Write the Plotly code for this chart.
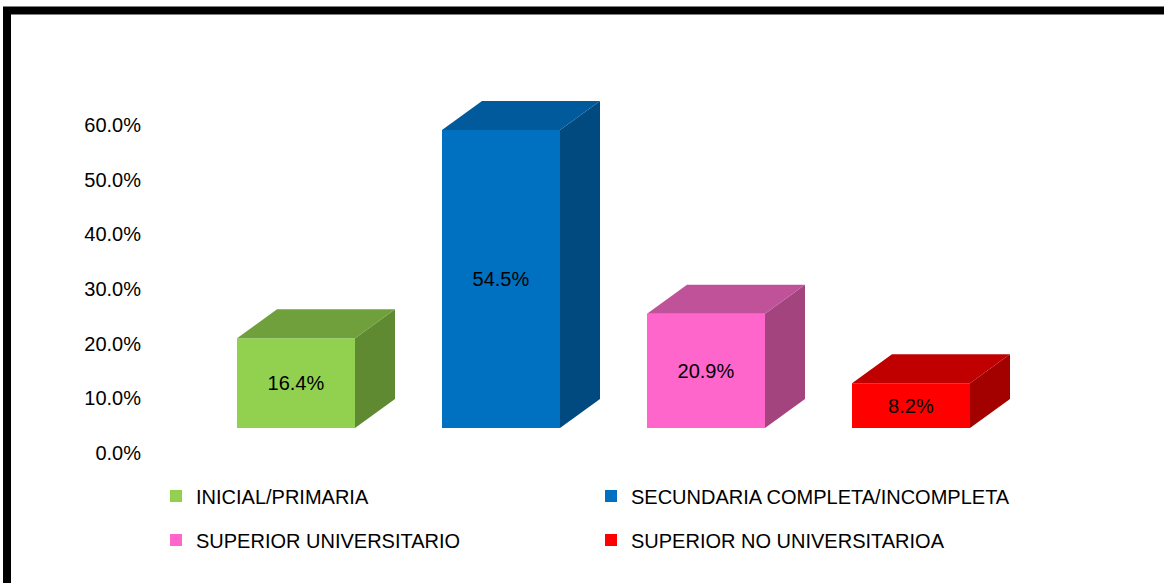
import plotly.graph_objects as go

# ---- data ----
categories = ["INICIAL/PRIMARIA", "SECUNDARIA COMPLETA/INCOMPLETA",
              "SUPERIOR UNIVERSITARIO", "SUPERIOR NO UNIVERSITARIOA"]
values = [0.164, 0.545, 0.209, 0.082]
labels = ["16.4%", "54.5%", "20.9%", "8.2%"]
y_ticks = [0.0, 0.1, 0.2, 0.3, 0.4, 0.5, 0.6]

# ---- styling ----
front_colors = ["#92D050", "#0070C0", "#FF66CC", "#FF0000"]
top_colors = ["#70A03C", "#005A9C", "#C0529A", "#C00000"]
side_colors = ["#5F8A32", "#004A80", "#A3447F", "#A30000"]

W, H = 1164, 583
L, R, T, B = 146, 1060, 80, 460          # plot area in pixels
X0_PX, X_STEP_PX = 296.0, 205.0          # pixel of category 0 centre, spacing
Y0_PX, Y_UNIT_PX = 453.0, 547.0          # pixel of value 0, pixels per 1.0

xr = [(L - X0_PX) / X_STEP_PX, (R - X0_PX) / X_STEP_PX]
yr = [(Y0_PX - B) / Y_UNIT_PX, (Y0_PX - T) / Y_UNIT_PX]

bar_w = 118 / X_STEP_PX
base = 25 / Y_UNIT_PX          # front face lifted (3D floor)
dx = 40 / X_STEP_PX            # depth offset
dy = 29 / Y_UNIT_PX

legend_ids = ["legend", "legend2", "legend3", "legend4"]
legend_pos = [(156, 496), (591, 496), (156, 540), (591, 540)]   # pixel anchors

fig = go.Figure()

for i, (cat, v) in enumerate(zip(categories, values)):
    x0, x1 = i - bar_w / 2, i + bar_w / 2
    top = base + v
    # side face
    fig.add_trace(go.Scatter(
        x=[x1, x1 + dx, x1 + dx, x1, x1],
        y=[base, base + dy, top + dy, top, base],
        fill="toself", fillcolor=side_colors[i], mode="lines",
        line=dict(width=0), hoverinfo="skip", showlegend=False))
    # top face
    fig.add_trace(go.Scatter(
        x=[x0, x1, x1 + dx, x0 + dx, x0],
        y=[top, top, top + dy, top + dy, top],
        fill="toself", fillcolor=top_colors[i], mode="lines",
        line=dict(width=0), hoverinfo="skip", showlegend=False))
    # front face
    fig.add_trace(go.Bar(
        x=[i], y=[v], base=[base], width=bar_w, name=cat,
        marker=dict(color=front_colors[i], line=dict(width=0)),
        text=[labels[i]], textposition="inside", insidetextanchor="middle",
        textfont=dict(color="black", size=20, family="Liberation Sans"),
        legend=legend_ids[i]))

leg_common = dict(orientation="h",
                  font=dict(size=20, family="Liberation Sans", color="black"),
                  xref="container", yref="container", xanchor="left", yanchor="middle",
                  bgcolor="rgba(0,0,0,0)", itemwidth=30)

legends = {}
for lid, (px, py) in zip(legend_ids, legend_pos):
    legends[lid] = dict(x=px / W, y=1 - py / H, **leg_common)

fig.update_layout(
    width=W, height=H,
    margin=dict(l=L, r=W - R, t=T, b=H - B, autoexpand=False),
    paper_bgcolor="white", plot_bgcolor="white",
    barmode="overlay",
    font=dict(family="Liberation Sans", size=20, color="black"),
    xaxis=dict(range=xr, showgrid=False, zeroline=False, showticklabels=False,
               showline=False, fixedrange=True),
    yaxis=dict(range=yr, tickvals=y_ticks, tickformat=".1%", showgrid=False,
               zeroline=False, showline=False, ticks="", ticklabelstandoff=4,
               tickfont=dict(size=20, family="Liberation Sans", color="black")),
    shapes=[dict(type="rect", xref="paper", yref="paper",
                 x0=(7 - L) / (R - L), x1=(1200 - L) / (R - L),
                 y0=(B - 620) / (B - T), y1=(B - 10.5) / (B - T),
                 line=dict(color="black", width=8), fillcolor="rgba(0,0,0,0)",
                 layer="above")],
    **legends,
)

fig.write_html("out.html", config={"displayModeBar": False},
               post_script="document.body.style.margin='0';document.body.style.padding='0';")
